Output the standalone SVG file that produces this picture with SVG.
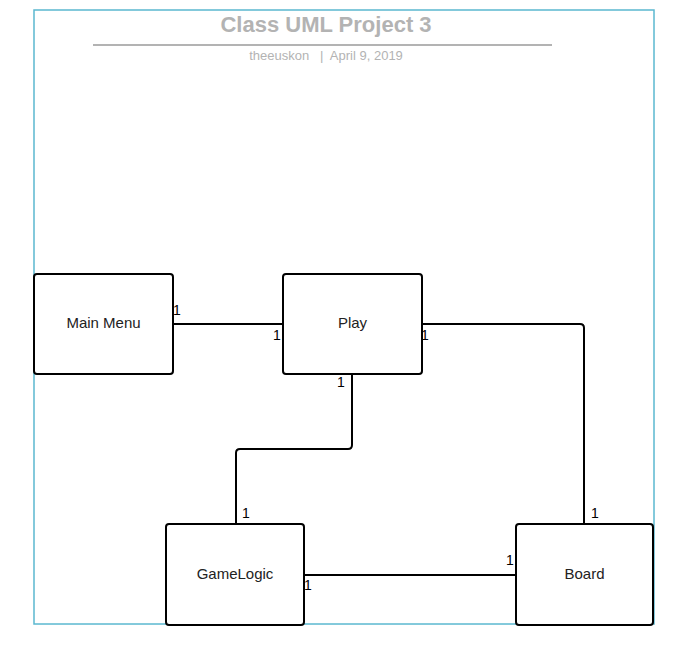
<svg xmlns="http://www.w3.org/2000/svg" width="684" height="652" viewBox="0 0 684 652">
<style>
.node{fill:#fff;stroke:#000;stroke-width:2}
.lbl{font-family:"Liberation Sans",Arial,sans-serif;font-size:15px;fill:#222;text-anchor:middle}
.m{font-family:"Liberation Sans",Arial,sans-serif;font-size:14px;fill:#000}
.c{fill:none;stroke:#000;stroke-width:2}
</style>
<rect x="0" y="0" width="684" height="652" fill="#fff"/>
<rect id="frame" x="34" y="10" width="620" height="614" fill="none" stroke="#5bb8d0" stroke-width="1.5"/>
<g id="header">
<text x="326" y="32" font-family="'Liberation Sans',Arial,sans-serif" font-size="22" font-weight="bold" fill="#b3b3b3" text-anchor="middle">Class UML Project 3</text>
<line x1="93" y1="45" x2="552" y2="45" stroke="#b3b3b3" stroke-width="2"/>
<text x="326" y="60" font-family="'Liberation Sans',Arial,sans-serif" font-size="13" fill="#b3b3b3" text-anchor="middle" xml:space="preserve">theeuskon   |  April 9, 2019</text>
</g>
<g id="connectors">
<path class="c" d="M173 324 H283"/>
<path class="c" d="M422 324 H580 Q584 324 584 328 V524"/>
<path class="c" d="M352 374 V445 Q352 449 348 449 H240 Q236 449 236 453 V524"/>
<path class="c" d="M304 575 H516"/>
<text class="m" x="173" y="315">1</text>
<text class="m" x="273" y="340">1</text>
<text class="m" x="421" y="340">1</text>
<text class="m" x="337" y="387">1</text>
<text class="m" x="242" y="518">1</text>
<text class="m" x="591" y="518">1</text>
<text class="m" x="506" y="565">1</text>
<text class="m" x="304" y="590">1</text>
</g>
<g id="main-menu"><rect class="node" x="34" y="274" width="139" height="100" rx="3"/><text class="lbl" x="103.5" y="328">Main Menu</text></g>
<g id="play"><rect class="node" x="283" y="274" width="139" height="100" rx="3"/><text class="lbl" x="352.5" y="328">Play</text></g>
<g id="gamelogic"><rect class="node" x="166" y="524" width="138" height="101" rx="3"/><text class="lbl" x="235" y="579">GameLogic</text></g>
<g id="board"><rect class="node" x="516" y="524" width="137" height="101" rx="3"/><text class="lbl" x="584.5" y="579">Board</text></g>
</svg>
